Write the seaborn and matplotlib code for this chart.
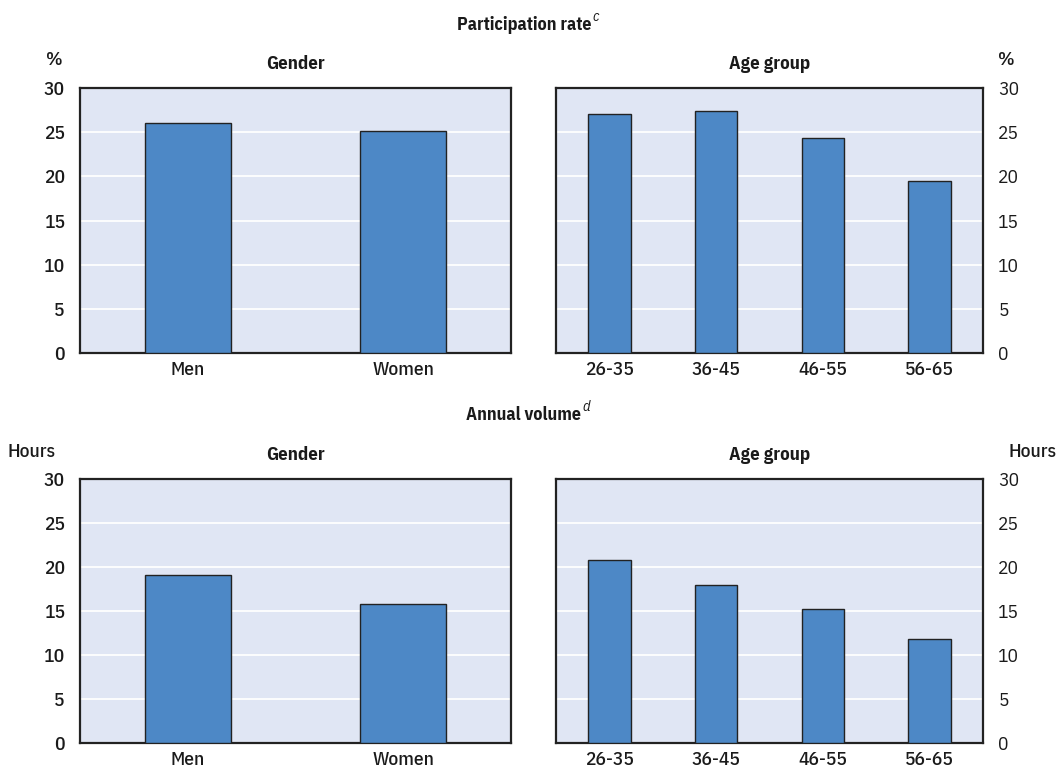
import matplotlib
matplotlib.use("Agg")
import matplotlib.pyplot as plt
import seaborn as sns
import pandas as pd

sns.set_theme(style="white")
FONT = "IBM Plex Sans Condensed"
plt.rcParams['font.family'] = [FONT, 'DejaVu Sans']

# Data
gender = ["Men", "Women"]
age_groups = ["26-35", "36-45", "46-55", "56-65"]
participation_gender = [26.0, 25.1]
participation_age = [27.1, 27.4, 24.3, 19.5]
volume_gender = [19.1, 15.8]
volume_age = [20.8, 18.0, 15.2, 11.8]

bg = "#E0E6F4"
bar_color = "#4D88C6"
edge = "#222222"
text_color = "#1a1a1a"

fig = plt.figure(figsize=(10.57, 7.72), dpi=100)
W, H = 1057, 772


def make_ax(x0, y0, x1, y1):
    return fig.add_axes([x0 / W, 1 - y1 / H, (x1 - x0) / W, (y1 - y0) / H])


axes = {
    "tl": make_ax(80, 88, 511, 353),
    "tr": make_ax(556, 88, 983, 353),
    "bl": make_ax(80, 479, 511, 743),
    "br": make_ax(556, 479, 983, 743),
}

panels = [
    ("tl", gender, participation_gender, "Gender", "left"),
    ("tr", age_groups, participation_age, "Age group", "right"),
    ("bl", gender, volume_gender, "Gender", "left"),
    ("br", age_groups, volume_age, "Age group", "right"),
]

for key, cats, vals, title, side in panels:
    ax = axes[key]
    df = pd.DataFrame({"cat": cats, "val": vals})
    sns.barplot(data=df, x="cat", y="val", ax=ax, color=bar_color,
                width=0.4, saturation=1, edgecolor=edge, linewidth=1.0,
                zorder=3)
    ax.set_facecolor(bg)
    ax.set_ylim(0, 30)
    ax.set_xlim(-0.5, len(cats) - 0.5)
    ax.set_yticks(range(0, 31, 5))
    ax.yaxis.grid(True, color="white", linewidth=1.3, zorder=0)
    ax.set_axisbelow(True)
    ax.set_xlabel("")
    ax.set_ylabel("")
    for s in ax.spines.values():
        s.set_visible(True)
        s.set_color(edge)
        s.set_linewidth(1.6)
    ax.tick_params(axis="x", length=0, labelsize=14, colors=text_color, pad=6)
    ax.tick_params(axis="y", length=0, labelsize=14, colors=text_color, pad=11)
    for lab in ax.get_xticklabels() + ax.get_yticklabels():
        lab.set_fontweight(500)
    if side == "right":
        ax.yaxis.tick_right()
    ax.set_title(title, fontsize=13.5, fontweight="bold", pad=14,
                 color=text_color)

# Unit labels above the value axes
unit_kw = dict(fontsize=14, fontweight=500, color=text_color, va="center")
fig.text(63 / W, 1 - 60 / H, "%", ha="right", **unit_kw)
fig.text(998 / W, 1 - 60 / H, "%", ha="left", **unit_kw)
fig.text(56 / W, 1 - 452 / H, "Hours", ha="right", **unit_kw)
fig.text(1008 / W, 1 - 452 / H, "Hours", ha="left", **unit_kw)


# Section headings with an italic note marker
def heading(x, y, label, note):
    t = fig.text(x / W, 1 - y / H, label, ha="center", va="center",
                 fontsize=13, fontweight="bold", color=text_color)
    axes["tl"].annotate(note, xy=(1, 1), xycoords=t, xytext=(1, -1),
                        textcoords="offset points", ha="left", va="center",
                        fontsize=10.5, fontstyle="italic", color=text_color,
                        annotation_clip=False)
    return t


heading(524, 25, "Participation rate", "c")
heading(524, 415, "Annual volume", "d")

fig.savefig("out.png", dpi=100, facecolor="white")
